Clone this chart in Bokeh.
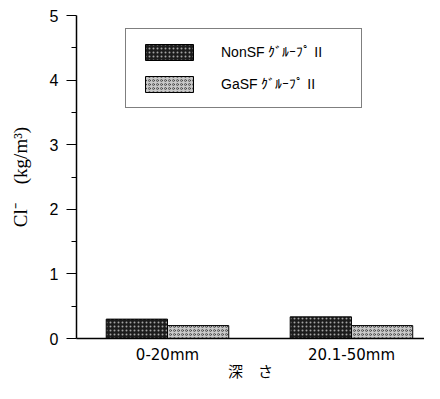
from bokeh.plotting import figure
from bokeh.models import Range1d, Legend, LegendItem, FixedTicker
from bokeh.embed import file_html
from bokeh.resources import INLINE

categories = ["0-20mm", "20.1-50mm"]
series_names = ["NonSF ｸﾞﾙｰﾌﾟ II", "GaSF ｸﾞﾙｰﾌﾟ II"]
nonsf = [0.30, 0.335]
gasf = [0.20, 0.20]
y_ticks = [0, 1, 2, 3, 4, 5]
y_minor = [0.5, 1.5, 2.5, 3.5, 4.5]

centers = [i + 0.5 for i in range(len(categories))]
bw = 0.333

p = figure(width=424, height=383, output_backend="svg", toolbar_location=None,
           x_range=Range1d(0.0054, 1.897), y_range=Range1d(0, 5),
           min_border_left=76, min_border_right=0, min_border_top=15, min_border_bottom=35)
p.outline_line_color = None
p.xgrid.visible = False
p.ygrid.visible = False
p.background_fill_color = "white"
p.border_fill_color = "white"

r1 = p.vbar(x=[c - bw / 2 for c in centers], top=nonsf, width=bw, bottom=0,
            fill_color="#1c1c1c", line_color="black", line_width=1,
            hatch_pattern="dot", hatch_color="white", hatch_scale=4, hatch_weight=1, hatch_alpha=0.6)
r2 = p.vbar(x=[c + bw / 2 for c in centers], top=gasf, width=bw, bottom=0,
            fill_color="#c8c8c8", line_color="black", line_width=1,
            hatch_pattern="ring", hatch_color="#333333", hatch_scale=4, hatch_weight=1, hatch_alpha=0.7)

xa = p.xaxis[0]
xa.ticker = FixedTicker(ticks=centers)
xa.major_label_overrides = {c: cat for c, cat in zip(centers, categories)}
xa.major_tick_line_color = None
xa.minor_tick_line_color = None
xa.axis_line_width = 1.5
xa.axis_line_color = "black"
xa.major_label_text_font = "DejaVu Sans"
xa.major_label_text_font_size = "15px"
xa.major_label_text_color = "black"
xa.major_label_standoff = 1
xa.axis_label = "深　さ"
xa.axis_label_text_font = "Noto Sans CJK JP"
xa.axis_label_text_font_size = "15px"
xa.axis_label_text_font_style = "normal"
xa.axis_label_text_color = "black"
xa.axis_label_standoff = -7

ya = p.yaxis[0]
ya.ticker = FixedTicker(ticks=y_ticks, minor_ticks=y_minor)
ya.axis_line_width = 1.5
ya.axis_line_color = "black"
ya.major_tick_in = 0
ya.major_tick_out = 10
ya.minor_tick_in = 0
ya.minor_tick_out = 5
ya.major_tick_line_color = "black"
ya.minor_tick_line_color = "black"
ya.major_tick_line_width = 1.2
ya.major_label_text_font = "Liberation Sans"
ya.major_label_text_font_size = "16px"
ya.major_label_text_color = "black"
ya.major_label_standoff = 8
ya.axis_label = "Cl⁻　(kg/m³)"
ya.axis_label_text_font = "Liberation Serif"
ya.axis_label_text_font_size = "19px"
ya.axis_label_text_font_style = "normal"
ya.axis_label_text_color = "black"
ya.axis_label_standoff = 16

legend = Legend(items=[LegendItem(label=series_names[0], renderers=[r1]),
                       LegendItem(label=series_names[1], renderers=[r2])],
                location=(49, 230), orientation="vertical",
                glyph_width=60, glyph_height=20, label_standoff=22, label_width=127,
                label_height=20, padding=13, spacing=12, margin=0,
                border_line_color="black", border_line_width=1.5,
                background_fill_color="white", background_fill_alpha=1,
                label_text_font="Liberation Sans", label_text_font_size="14px",
                label_text_color="black")
p.add_layout(legend)

open("out.html", "w").write(file_html(p, INLINE))
